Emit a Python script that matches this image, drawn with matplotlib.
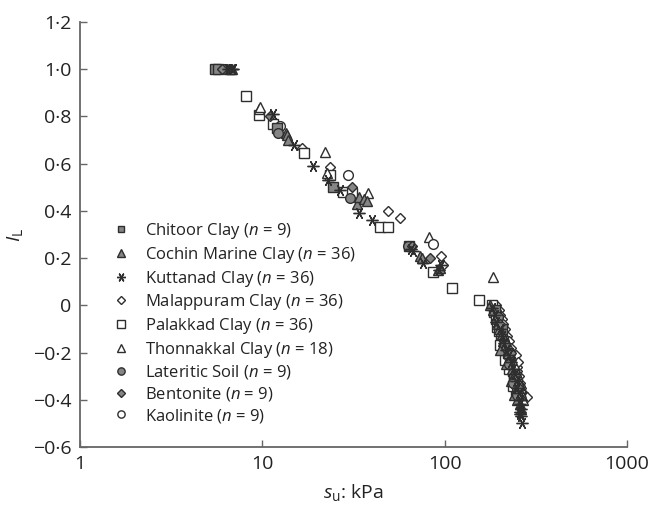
import numpy as np
import matplotlib
matplotlib.use("Agg")
import matplotlib.pyplot as plt
from matplotlib.ticker import FixedLocator, FuncFormatter, NullLocator

plt.rcParams['font.family'] = ['Open Sans', 'DejaVu Sans']
plt.rcParams['mathtext.fontset'] = 'custom'
plt.rcParams['mathtext.rm'] = 'Open Sans'
plt.rcParams['mathtext.it'] = 'Open Sans:italic'

# (su kPa, IL)
chitoor_su = [5.5, 5.7, 12, 24.3, 64, 188, 205, 222, 240]
chitoor_il = [1.0, 1.0, 0.75, 0.50, 0.25, -0.02, -0.10, -0.20, -0.29]

cochin_su = [6.6, 6.7, 6.8, 13.4, 13.6, 13.9, 33, 34, 36, 37.4, 73, 75, 92, 94,
             178, 185, 190, 195, 198, 205, 210, 215, 200, 222, 228, 218, 235, 240,
             232, 248, 245, 255, 250, 258, 262, 240]
cochin_il = [1.0, 1.0, 1.0, 0.73, 0.72, 0.70, 0.43, 0.46, 0.45, 0.44, 0.21, 0.20, 0.15, 0.16,
             0.0, -0.02, -0.05, -0.08, -0.10, -0.12, -0.15, -0.17, -0.19, -0.20, -0.22, -0.25, -0.27, -0.30,
             -0.32, -0.33, -0.36, -0.38, -0.40, -0.42, -0.44, -0.38]

kuttanad_su = [6.8, 6.9, 6.5, 11.5, 14.9, 19, 22.9, 26.6, 34, 40, 65, 67, 76, 93, 95,
               182, 188, 192, 200, 207, 212, 218, 225, 230, 236, 242, 246, 250, 255, 258,
               260, 262, 258, 263, 260, 265]
kuttanad_il = [1.0, 1.0, 1.0, 0.81, 0.68, 0.59, 0.53, 0.49, 0.39, 0.36, 0.24, 0.23, 0.18, 0.15, 0.17,
               -0.01, -0.04, -0.07, -0.10, -0.13, -0.16, -0.19, -0.21, -0.24, -0.27, -0.29, -0.32, -0.35, -0.37, -0.40,
               -0.42, -0.44, -0.46, -0.47, -0.45, -0.50]

malappuram_su = [16.4, 23.4, 48.7, 56.7, 96, 98,
                 192, 198, 202, 206, 210, 214, 208, 220, 224, 215, 230, 234, 226, 240, 244,
                 236, 250, 254, 246, 258, 262, 255, 268, 272, 281, 265, 260, 250, 245, 252]
malappuram_il = [0.665, 0.585, 0.40, 0.37, 0.21, 0.17,
                 0.0, -0.02, -0.04, -0.06, -0.08, -0.10, -0.12, -0.13, -0.15, -0.17, -0.18, -0.20, -0.22, -0.23, -0.25,
                 -0.27, -0.28, -0.30, -0.31, -0.33, -0.35, -0.36, -0.37, -0.38, -0.39, -0.40, -0.34, -0.26, -0.21, -0.24]

palakkad_su = [8.1, 9.6, 11.5, 17, 23.4, 27.6, 31, 44, 48.7, 86, 110, 155,
               182, 186, 190, 194, 198, 203, 208, 212, 218, 223, 228, 232, 236, 240,
               244, 248, 252, 256, 260, 246, 238, 226, 214, 202]
palakkad_il = [0.886, 0.805, 0.77, 0.644, 0.55, 0.48, 0.475, 0.33, 0.33, 0.14, 0.072, 0.021,
               0.0, -0.03, -0.06, -0.09, -0.11, -0.14, -0.16, -0.18, -0.20, -0.22, -0.24, -0.26, -0.28, -0.30,
               -0.31, -0.33, -0.35, -0.37, -0.38, -0.36, -0.34, -0.27, -0.23, -0.17]

thonnakkal_su = [9.6, 9.7, 22, 22.6, 37.9, 81.7, 183,
                 188, 195, 205, 212, 222, 232, 240, 248, 255, 262, 268]
thonnakkal_il = [0.83, 0.84, 0.648, 0.56, 0.475, 0.288, 0.119,
                 -0.02, -0.06, -0.10, -0.13, -0.17, -0.21, -0.25, -0.29, -0.33, -0.37, -0.40]

lateritic_su = [6.2, 12.2, 30.2, 63, 195, 215, 226, 238, 250]
lateritic_il = [1.0, 0.73, 0.453, 0.25, -0.05, -0.17, -0.25, -0.33, -0.38]

bentonite_su = [6.0, 11, 30.9, 66, 82.6, 200, 230, 245, 255]
bentonite_il = [1.0, 0.80, 0.50, 0.25, 0.20, -0.08, -0.20, -0.30, -0.35]

kaolinite_su = [6.3, 12.5, 29.4, 86, 190, 210, 225, 240, 250]
kaolinite_il = [1.0, 0.76, 0.551, 0.258, -0.03, -0.14, -0.22, -0.30, -0.36]

grey = '#858585'
edge = '#2e2e2e'

# label, x, y, marker, face, size, zorder (filled ones sit on top, as in the source)
series = [
    ('Chitoor Clay ($n$ = 9)', chitoor_su, chitoor_il, 's', grey, 6.5, 4),
    ('Cochin Marine Clay ($n$ = 36)', cochin_su, cochin_il, '^', grey, 7, 4),
    ('Kuttanad Clay ($n$ = 36)', kuttanad_su, kuttanad_il, (6, 2, 90), 'none', 8.5, 5),
    ('Malappuram Clay ($n$ = 36)', malappuram_su, malappuram_il, 'D', 'white', 5, 3),
    ('Palakkad Clay ($n$ = 36)', palakkad_su, palakkad_il, 's', 'white', 7, 3),
    ('Thonnakkal Clay ($n$ = 18)', thonnakkal_su, thonnakkal_il, '^', 'white', 7, 3),
    ('Lateritic Soil ($n$ = 9)', lateritic_su, lateritic_il, 'o', grey, 7, 4),
    ('Bentonite ($n$ = 9)', bentonite_su, bentonite_il, 'D', grey, 5, 4),
    ('Kaolinite ($n$ = 9)', kaolinite_su, kaolinite_il, 'o', 'white', 7, 3),
]

fig = plt.figure(figsize=(6.52, 5.05), dpi=100)
ax = fig.add_axes([0.1227, 0.1149, 0.8390, 0.8415])

for label, su, il, mk, fc, ms, z in series:
    ax.plot(su, il, linestyle='none', marker=mk, markersize=ms,
            markerfacecolor=fc, markeredgecolor=edge, markeredgewidth=1.0,
            label=label, zorder=z)

ax.set_xscale('log')
ax.set_xlim(1, 1000)
ax.set_ylim(-0.6, 1.2)
ax.xaxis.set_major_locator(FixedLocator([1, 10, 100, 1000]))
ax.xaxis.set_minor_locator(NullLocator())
ax.xaxis.set_major_formatter(FuncFormatter(lambda v, p: '%d' % round(v)))
ax.yaxis.set_major_locator(FixedLocator(np.round(np.arange(-0.6, 1.21, 0.2), 1)))


def yfmt(v, p):
    if abs(v) < 1e-9:
        return '0'
    s = '%.1f' % v
    return s.replace('.', '\u00b7').replace('-', '\u2212')


ax.yaxis.set_major_formatter(FuncFormatter(yfmt))

for side in ['top', 'right']:
    ax.spines[side].set_visible(False)
for side in ['left', 'bottom']:
    ax.spines[side].set_color('#666666')
    ax.spines[side].set_linewidth(1.3)
ax.tick_params(direction='in', length=5, width=1, color='#666666',
               labelsize=14, labelcolor='#222222', pad=6)

ax.set_xlabel('$s_{\\mathrm{u}}$: kPa', fontsize=14, color='#222222', labelpad=6)
ax.set_ylabel('$I_{\\mathrm{L}}$', fontsize=14, color='#222222', labelpad=6)

leg = ax.legend(loc='center left', bbox_to_anchor=(0.03, 0.292), frameon=False,
                fontsize=12, markerscale=0.75, handlelength=1.2,
                handletextpad=0.8, labelspacing=0.22, numpoints=1)
for t in leg.get_texts():
    t.set_color('#222222')

fig.savefig('out.png', dpi=100)
